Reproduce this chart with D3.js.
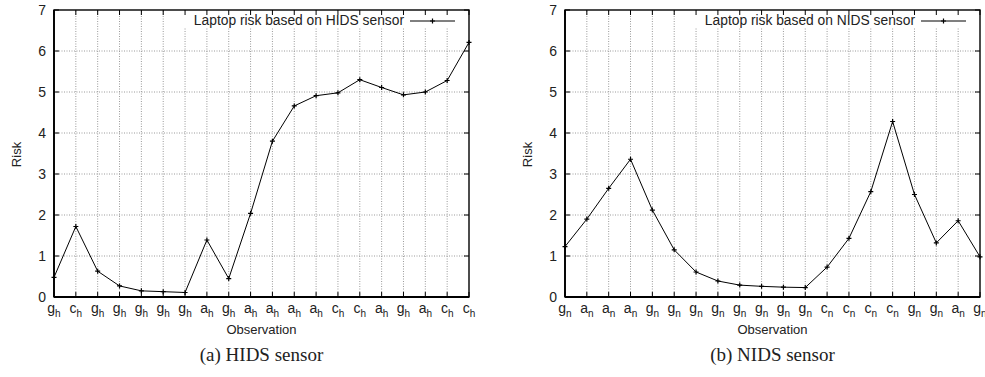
<!DOCTYPE html>
<html><head><meta charset="utf-8">
<script src="https://cdn.jsdelivr.net/npm/d3@7"></script>
<style>
body{margin:0;background:#fff;}
svg{display:block;}
</style></head>
<body>
<svg id="c" width="985" height="377"></svg>
<script>
// ---- data ----
const hidsLabels = ["g","c","g","g","g","g","g","a","g","a","a","a","a","c","c","a","g","a","c","c"];
const hidsRisk = [0.48,1.72,0.63,0.27,0.15,0.13,0.11,1.39,0.45,2.04,3.80,4.66,4.91,4.98,5.30,5.11,4.93,5.00,5.28,6.21];
const nidsLabels = ["g","a","a","a","g","g","g","g","g","g","g","g","c","c","c","c","g","g","a","g"];
const nidsRisk = [1.23,1.90,2.65,3.36,2.12,1.15,0.61,0.39,0.29,0.26,0.24,0.23,0.73,1.43,2.57,4.28,2.50,1.32,1.86,0.98];
const yTicks = [0,1,2,3,4,5,6,7];

const panels = [
  {labels: hidsLabels, values: hidsRisk, sub: "h", legend: "Laptop risk based on HIDS sensor", caption: "(a) HIDS sensor", x0: 54, x1: 469},
  {labels: nidsLabels, values: nidsRisk, sub: "n", legend: "Laptop risk based on NIDS sensor", caption: "(b) NIDS sensor", x0: 565, x1: 980}
];

const svg = d3.select("#c");
const yTop = 10, yBot = 297;
const font = "'Liberation Sans', Arial, Helvetica, sans-serif";

panels.forEach(p => {
  const g = svg.append("g");
  const idx = d3.range(p.values.length);
  const x = d3.scalePoint().domain(idx).range([p.x0, p.x1]);
  const y = d3.scaleLinear().domain([0, 7]).range([yBot, yTop]);

  // grid
  g.append("g").selectAll("line.v").data(idx.slice(1, -1)).join("line")
    .attr("x1", d => x(d)).attr("x2", d => x(d)).attr("y1", yBot).attr("y2", yTop)
    .attr("stroke", "#9a9a9a").attr("stroke-width", 1).attr("stroke-dasharray", "1,1.5");
  g.append("g").selectAll("line.h").data(yTicks.slice(1, -1)).join("line")
    .attr("x1", p.x0).attr("x2", p.x1).attr("y1", d => y(d)).attr("y2", d => y(d))
    .attr("stroke", "#9a9a9a").attr("stroke-width", 1).attr("stroke-dasharray", "1,1.5");

  // legend blanking box
  g.append("rect").attr("x", p.x1 - 296).attr("y", yTop + 1).attr("width", 294).attr("height", 17).attr("fill", "#fff");

  // ticks (inward) on all sides
  const tl = 5;
  g.append("g").selectAll("line").data(idx).join("line")
    .attr("x1", d => x(d)).attr("x2", d => x(d)).attr("y1", yBot).attr("y2", yBot - tl).attr("stroke", "#000");
  g.append("g").selectAll("line").data(idx).join("line")
    .attr("x1", d => x(d)).attr("x2", d => x(d)).attr("y1", yTop).attr("y2", yTop + tl).attr("stroke", "#000");
  g.append("g").selectAll("line").data(yTicks).join("line")
    .attr("x1", p.x0).attr("x2", p.x0 + tl).attr("y1", d => y(d)).attr("y2", d => y(d)).attr("stroke", "#000");
  g.append("g").selectAll("line").data(yTicks).join("line")
    .attr("x1", p.x1).attr("x2", p.x1 - tl).attr("y1", d => y(d)).attr("y2", d => y(d)).attr("stroke", "#000");

  // frame
  g.append("rect").attr("x", p.x0).attr("y", yTop).attr("width", p.x1 - p.x0).attr("height", yBot - yTop)
    .attr("fill", "none").attr("stroke", "#000").attr("stroke-width", 1.4);
  g.append("line").attr("x1", p.x0).attr("x2", p.x1).attr("y1", yBot).attr("y2", yBot).attr("stroke", "#000").attr("stroke-width", 2);
  g.append("line").attr("x1", p.x0).attr("x2", p.x0).attr("y1", yTop).attr("y2", yBot).attr("stroke", "#000").attr("stroke-width", 1.8);

  // y tick labels
  g.append("g").selectAll("text").data(yTicks).join("text")
    .attr("x", p.x0 - 8).attr("y", d => y(d) + 5).attr("text-anchor", "end")
    .attr("font-family", font).attr("font-size", 14).attr("fill", "#222").text(d => d);

  // x tick labels
  const xl = g.append("g").selectAll("text").data(idx).join("text")
    .attr("x", d => x(d)).attr("y", yBot + 16).attr("text-anchor", "middle")
    .attr("font-family", font).attr("font-size", 14).attr("fill", "#222");
  xl.append("tspan").text(d => p.labels[d]);
  xl.append("tspan").attr("font-size", 10).attr("dy", 3.5).text(p.sub);

  // axis titles
  g.append("text").attr("transform", `translate(${p.x0 - 33},${(yTop + yBot) / 2 + 1}) rotate(-90)`)
    .attr("text-anchor", "middle").attr("font-family", font).attr("font-size", 13).attr("fill", "#222").text("Risk");
  g.append("text").attr("x", (p.x0 + p.x1) / 2).attr("y", yBot + 37).attr("text-anchor", "middle")
    .attr("font-family", font).attr("font-size", 13).attr("fill", "#222").text("Observation");

  // data line
  const line = d3.line().x((d, i) => x(i)).y(d => y(d));
  g.append("path").datum(p.values).attr("d", line).attr("fill", "none").attr("stroke", "#000").attr("stroke-width", 1);
  const ms = 2.5;
  const mk = g.append("g").selectAll("g").data(p.values).join("g")
    .attr("transform", (d, i) => `translate(${x(i)},${y(d)})`);
  mk.append("path").attr("d", `M${-ms},0H${ms}M0,${-ms}V${ms}`).attr("stroke", "#000").attr("stroke-width", 1.2);

  // legend
  const lx1 = p.x1 - 14, lx0 = lx1 - 45;
  g.append("text").attr("x", lx0 - 6).attr("y", yTop + 15).attr("text-anchor", "end")
    .attr("font-family", font).attr("font-size", 13.8).attr("fill", "#222").text(p.legend);
  g.append("line").attr("x1", lx0).attr("x2", lx1).attr("y1", yTop + 11).attr("y2", yTop + 11).attr("stroke", "#000");
  g.append("path").attr("d", `M${(lx0 + lx1) / 2 - ms},${yTop + 11}H${(lx0 + lx1) / 2 + ms}M${(lx0 + lx1) / 2},${yTop + 11 - ms}V${yTop + 11 + ms}`)
    .attr("stroke", "#000").attr("stroke-width", 1.2);

  // caption
  svg.append("text").attr("x", (p.x0 + p.x1) / 2).attr("y", 361).attr("text-anchor", "middle")
    .attr("font-family", "'Liberation Serif', 'DejaVu Serif', serif").attr("font-size", 19).attr("fill", "#222").text(p.caption);
});
</script>
</body></html>
